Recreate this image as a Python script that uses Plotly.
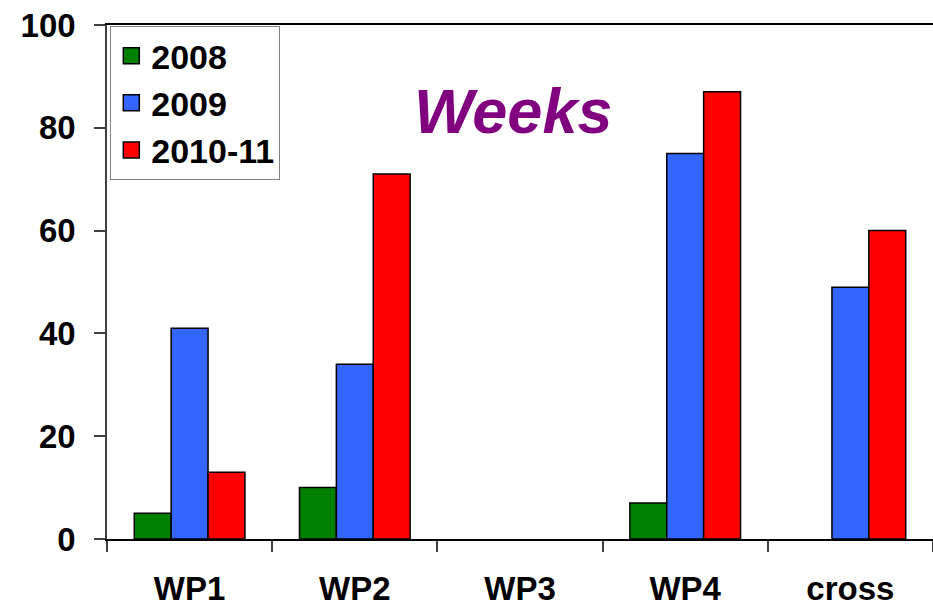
import plotly.graph_objects as go

# categories and series (WP3 has no bars at all, cross has no 2008 bar)
packages = ["WP1", "WP2", "WP3", "WP4", "cross"]
weeks_2008 = [5, 10, None, 7, None]
weeks_2009 = [41, 34, None, 75, 49]
weeks_2010_11 = [13, 71, None, 87, 60]

series = [
    ("2008", weeks_2008, "#008000"),
    ("2009", weeks_2009, "#3366ff"),
    ("2010-11", weeks_2010_11, "#ff0000"),
]

FONT = "Arial, Liberation Sans, sans-serif"

fig = go.Figure()
for name, vals, col in series:
    fig.add_trace(go.Bar(
        x=packages, y=vals, name=name, showlegend=False,
        marker=dict(color=col, line=dict(color="black", width=1.5)),
    ))
    # bigger legend swatch than the default bar one
    fig.add_trace(go.Scatter(
        x=[None], y=[None], mode="markers", name=name,
        marker=dict(symbol="square", size=20, color=col,
                    line=dict(color="black", width=1.5)),
    ))

fig.update_layout(
    width=933, height=605,
    margin=dict(l=107, r=0, t=25, b=66),
    plot_bgcolor="white", paper_bgcolor="white",
    barmode="group", bargap=0.33, bargroupgap=0,
    font=dict(family=FONT, size=33, color="black"),
    legend=dict(
        x=0.004, y=0.998, xanchor="left", yanchor="top",
        bordercolor="#808080", borderwidth=1, bgcolor="white",
        font=dict(family=FONT, size=34, color="black", weight="bold"),
        itemsizing="trace",
    ),
    annotations=[dict(
        text="<b><i>Weeks</i></b>", xref="paper", yref="paper",
        x=0.4915, y=0.833, xanchor="center", yanchor="middle",
        showarrow=False, font=dict(family=FONT, size=63, color="#800080"),
    )],
)

fig.update_xaxes(
    showline=True, linecolor="black", linewidth=1.5, mirror=True,
    ticks="outside", ticklen=11, tickcolor="#404040", tickwidth=1.5,
    tickson="boundaries", showgrid=False, automargin=False,
    tickfont=dict(family=FONT, size=33, weight="bold"),
    ticklabelstandoff=20,
)
fig.update_yaxes(
    range=[0, 100], dtick=20, showgrid=False, zeroline=False,
    showline=True, linecolor="#404040", linewidth=1.5, automargin=False,
    ticks="outside", ticklen=11, tickcolor="#404040", tickwidth=1.5,
    tickfont=dict(family=FONT, size=33, weight="bold"),
    ticklabelstandoff=12,
)

# drop the page's default 8px body margin so the figure fills the window
fig.write_html("out.html", config={"displayModeBar": False},
               post_script="document.body.style.margin = '0';")
